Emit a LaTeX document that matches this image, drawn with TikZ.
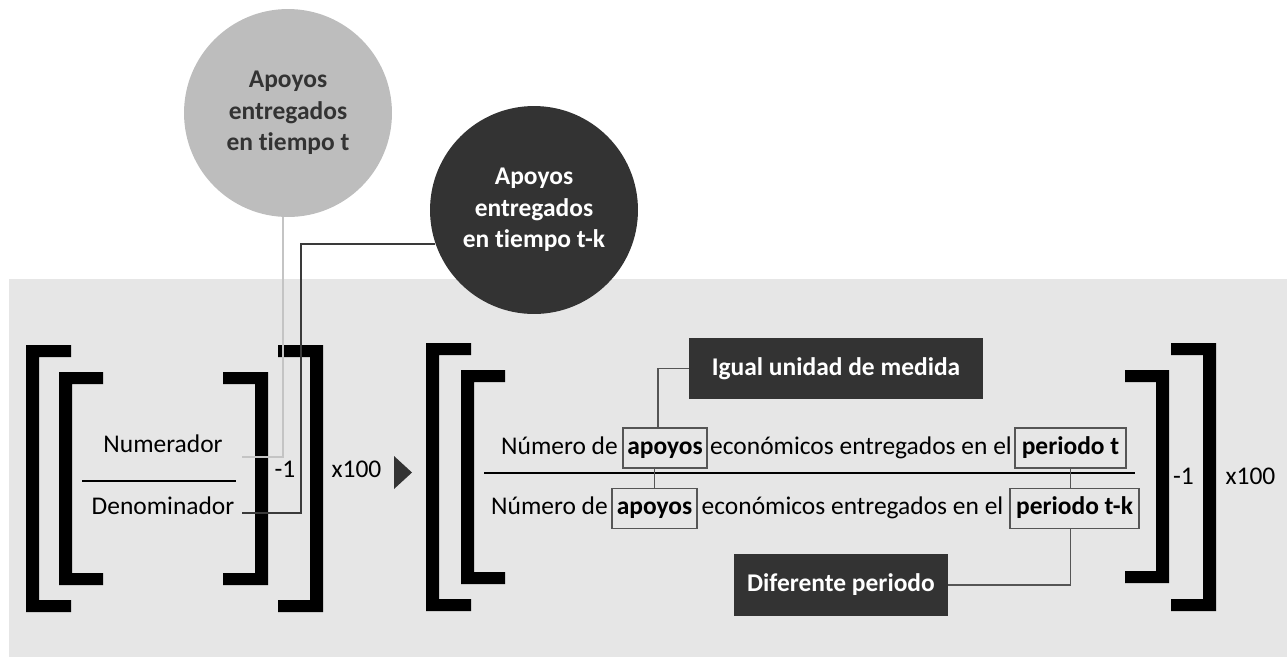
\documentclass[tikz,border=0pt]{standalone}
\usepackage{fontspec}
\setmainfont{Carlito}[Ligatures=NoCommon]
\usetikzlibrary{shapes}

\definecolor{bgfill}{HTML}{E6E6E6}
\definecolor{lightcirc}{HTML}{BDBDBD}
\definecolor{darkfill}{HTML}{333333}
\definecolor{boxgray}{HTML}{555555}
\definecolor{lightline}{HTML}{C4C4C4}
\definecolor{darkline}{HTML}{3A3A3A}

\newcommand{\bracketL}[4]{\fill[black] (#1,#3) -- (#2,#3) -- (#2,{#3+12}) -- ({#1+13},{#3+12}) -- ({#1+13},{#4-12}) -- (#2,{#4-12}) -- (#2,#4) -- (#1,#4) -- cycle;}
\newcommand{\bracketR}[4]{\fill[black] (#2,#3) -- (#1,#3) -- (#1,{#3+12}) -- ({#2-13},{#3+12}) -- ({#2-13},{#4-12}) -- (#1,{#4-12}) -- (#1,#4) -- (#2,#4) -- cycle;}

\tikzset{
  bigcirc/.style={shape=circle,minimum size=4.16cm,inner sep=0pt,align=center,font=\bfseries\fontsize{14.5}{18}\selectfont},
  tagbox/.style={fill=darkfill,text=white,inner sep=0pt,font=\bfseries\fontsize{14.5}{17}\selectfont},
  wordbox/.style={draw=boxgray,line width=1pt,inner sep=0pt,minimum height=0.8cm,text height=10pt,text depth=3pt,font=\bfseries\fontsize{14.5}{17}\selectfont},
  txt/.style={inner sep=0pt,text height=10pt,text depth=3pt,font=\fontsize{14.5}{17}\selectfont},
  link/.style={draw=boxgray,line width=0.9pt},
}

\begin{document}
\begin{tikzpicture}[x=0.02cm,y=-0.02cm]
\useasboundingbox (0,0) rectangle (1287,657);
\fill[bgfill] (9,279) rectangle (1287,657);

\node[bigcirc,fill=lightcirc,text=darkfill] (ct) at (288,113) {Apoyos\\entregados\\en tiempo t};
\node[bigcirc,fill=darkfill,text=white] (ck) at (534,210) {Apoyos\\entregados\\en tiempo t-k};

\bracketL{26}{71}{345}{612}
\bracketL{59}{103}{372}{585}
\bracketR{223}{268}{372}{585}
\bracketR{278}{323}{345}{612}
\bracketL{426}{471}{343}{611}
\bracketL{461}{505}{370}{584}
\bracketR{1125}{1169}{370}{583}
\bracketR{1171}{1216}{343}{611}

\node[txt] (num) at (163,446) {Numerador};
\node[txt] (den) at (163,508) {Denominador};
\draw[line width=1.2pt] (82,481) -- (236,481);
\node[txt] (m1) at (285,471) {-1};
\node[txt] (x1) at (356.5,471) {x100};
\fill[darkfill] (394,456) -- (412,472.5) -- (394,489) -- cycle;

\node[wordbox,minimum width=1.68cm] (atop) at (665,448) {apoyos};
\node[wordbox,minimum width=2.22cm] (ptop) at (1070.5,448) {periodo t};
\node[wordbox,minimum width=1.7cm] (abot) at (654.5,508.5) {apoyos};
\node[wordbox,minimum width=2.58cm] (pbot) at (1074.5,508.5) {periodo t-k};
\node[txt,anchor=east] (ntop) at ([xshift=-0.08cm]atop.west) {Número de};
\node[txt] (etop) at (861,448) {económicos entregados en el};
\node[txt,anchor=east] (nbot) at ([xshift=-0.06cm]abot.west) {Número de};
\node[txt] (ebot) at (852.5,508.5) {económicos entregados en el};
\draw[line width=1.2pt] (484,473) -- (1135,473);
\node[txt] (m2) at (1183.5,478) {-1};
\node[txt] (x2) at (1250.5,478) {x100};

\node[tagbox,minimum width=5.88cm,minimum height=1.22cm] (igual) at (836,368.5) {Igual unidad de medida};
\node[tagbox,minimum width=4.28cm,minimum height=1.24cm] (dif) at (841,585) {Diferente periodo};

\coordinate (nend) at (242,457);
\coordinate (dcorner) at (301,513);
\coordinate (dend) at (242,513);
\path [draw=lightline,line width=0.9pt] ([xshift=-0.1cm]ct.south) |- (nend);
\path [draw=darkline,line width=0.9pt] (ck.199) -| (dcorner) -- (dend);
\path [link] (igual.west) -| ([xshift=-0.14cm]atop.north);
\path [link] (abot.north) -- (abot.north |- atop.south);
\path [link] (ptop.south) -- (ptop.south |- pbot.north);
\path [link] (dif.east) -| (ptop.south |- pbot.south);
\end{tikzpicture}
\end{document}
